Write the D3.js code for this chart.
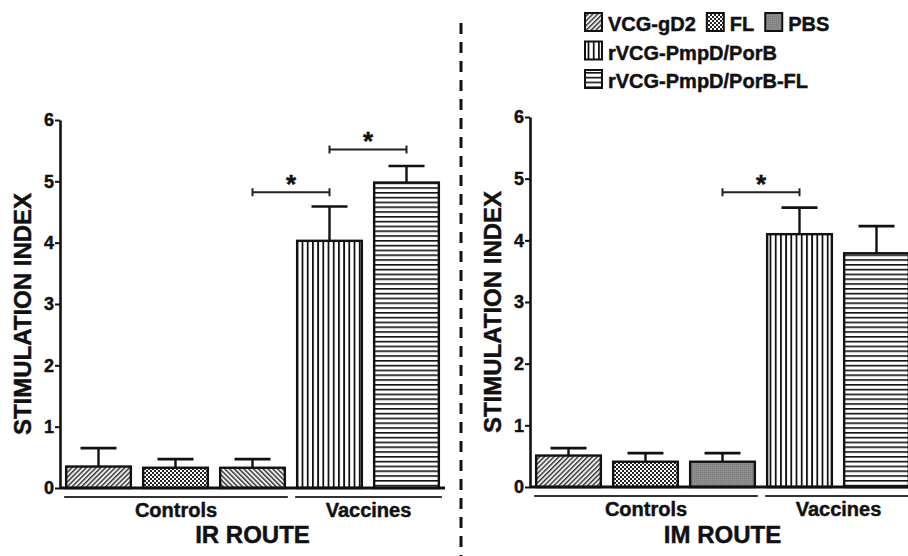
<!DOCTYPE html>
<html>
<head>
<meta charset="utf-8">
<script src="https://d3js.org/d3.v7.min.js"></script>
<style>
  body { margin: 0; background: #fff; }
  svg text { font-family: "Liberation Sans", Arial, sans-serif; font-weight: bold; fill: #111; stroke: #111; stroke-width: 0.45px; }
</style>
</head>
<body>
<div id="chart"></div>
<script>
// bar groups, in drawing order
const groups = ["VCG-gD2", "FL", "PBS", "rVCG-PmpD/PorB", "rVCG-PmpD/PorB-FL"];

// IR route: mean stimulation index and error (SEM)
const irMeans = [0.35, 0.33, 0.33, 4.03, 4.98];
const irErrs  = [0.30, 0.14, 0.14, 0.56, 0.27];
// fill patterns (the IR PBS bar is hatched the other way)
const irFills = ["diag", "check", "backdiag", "vert", "horiz"];

// IM route
const imMeans = [0.51, 0.41, 0.41, 4.10, 3.79];
const imErrs  = [0.12, 0.14, 0.14, 0.43, 0.44];
const imFills = ["diag", "check", "gray", "vert", "horiz"];

// significance brackets: from bar a to bar b, drawn at height y
const irSig = [{ a: 2, b: 3, y: 4.82 }, { a: 3, b: 4, y: 5.52 }];
const imSig = [{ a: 2, b: 3, y: 4.78 }];

// bottom category groups
const categories = [
  { name: "Controls", from: 0, to: 2 },
  { name: "Vaccines", from: 3, to: 4 }
];

const yTicks = [0, 1, 2, 3, 4, 5, 6];

// legend rows
const legendRows = [
  [{ label: "VCG-gD2", fill: "diag" }, { label: "FL", fill: "check" }, { label: "PBS", fill: "gray" }],
  [{ label: "rVCG-PmpD/PorB", fill: "vert" }],
  [{ label: "rVCG-PmpD/PorB-FL", fill: "horiz" }]
];

const W = 908, H = 556;
const svg = d3.select("#chart").append("svg")
  .attr("width", W)
  .attr("height", H);

// ---- patterns ----
const defs = svg.append("defs");

function hatch(id, angle, size, lw, color, bg) {
  const p = defs.append("pattern")
    .attr("id", id)
    .attr("patternUnits", "userSpaceOnUse")
    .attr("width", size)
    .attr("height", size)
    .attr("patternTransform", `rotate(${angle})`);
  p.append("rect").attr("width", size).attr("height", size).attr("fill", bg);
  p.append("rect").attr("x", 0).attr("y", 0).attr("width", lw).attr("height", size).attr("fill", color);
}
hatch("diag", 45, 3.4, 1.4, "#333", "#eee");
hatch("backdiag", -45, 3.4, 1.4, "#333", "#eee");
hatch("vert", 0, 5.2, 1.8, "#111", "#fff");
hatch("horiz", 90, 4.8, 1.6, "#111", "#fff");

const chk = defs.append("pattern")
  .attr("id", "check")
  .attr("patternUnits", "userSpaceOnUse")
  .attr("width", 4).attr("height", 4);
chk.append("rect").attr("width", 4).attr("height", 4).attr("fill", "#fff");
chk.append("rect").attr("x", 0).attr("y", 0).attr("width", 2).attr("height", 2).attr("fill", "#222");
chk.append("rect").attr("x", 2).attr("y", 2).attr("width", 2).attr("height", 2).attr("fill", "#222");

const gry = defs.append("pattern")
  .attr("id", "gray")
  .attr("patternUnits", "userSpaceOnUse")
  .attr("width", 2).attr("height", 2);
gry.append("rect").attr("width", 2).attr("height", 2).attr("fill", "#8c8c8c");
gry.append("rect").attr("width", 1).attr("height", 1).attr("fill", "#7a7a7a");

// ---- one panel ----
function drawPanel(p) {
  const g = svg.append("g");

  const x = d3.scaleBand()
    .domain(d3.range(groups.length))
    .range([p.left, p.right])
    .paddingInner(0.16)
    .paddingOuter(0.08);

  const y = d3.scaleLinear()
    .domain([0, 6])
    .range([p.bottom, p.top]);

  // bars
  g.selectAll(".bar")
    .data(p.means)
    .enter().append("rect")
    .attr("x", (d, i) => x(i))
    .attr("y", d => y(d))
    .attr("width", x.bandwidth())
    .attr("height", d => y(0) - y(d))
    .attr("fill", (d, i) => `url(#${p.fills[i]})`)
    .attr("stroke", "#111")
    .attr("stroke-width", 2.4);

  // error bars (upper only)
  const eb = g.selectAll(".err")
    .data(p.means)
    .enter().append("g");
  eb.append("line")
    .attr("x1", (d, i) => x(i) + x.bandwidth() / 2)
    .attr("x2", (d, i) => x(i) + x.bandwidth() / 2)
    .attr("y1", d => y(d))
    .attr("y2", (d, i) => y(d + p.errs[i]))
    .attr("stroke", "#111")
    .attr("stroke-width", 2.4);
  eb.append("line")
    .attr("x1", (d, i) => x(i) + x.bandwidth() / 2 - 18)
    .attr("x2", (d, i) => x(i) + x.bandwidth() / 2 + 18)
    .attr("y1", (d, i) => y(d + p.errs[i]))
    .attr("y2", (d, i) => y(d + p.errs[i]))
    .attr("stroke", "#111")
    .attr("stroke-width", 2.6);

  // y axis
  const ax = g.append("g")
    .attr("transform", `translate(${p.left},0)`)
    .call(d3.axisLeft(y).tickValues(yTicks).tickFormat(d3.format("d")).tickSize(5).tickSizeOuter(0).tickPadding(1));
  ax.select(".domain").attr("stroke", "#111").attr("stroke-width", 2.6);
  ax.selectAll(".tick line").attr("stroke", "#111").attr("stroke-width", 2);
  ax.selectAll(".tick text")
    .style("font-size", "18px")
    .style("font-family", "'Liberation Sans', Arial, sans-serif")
    .style("font-weight", "bold")
    .attr("fill", "#111");

  // x axis baseline
  g.append("line")
    .attr("x1", p.left)
    .attr("x2", p.right)
    .attr("y1", y(0))
    .attr("y2", y(0))
    .attr("stroke", "#111")
    .attr("stroke-width", 3);

  // category lines and names
  categories.forEach(c => {
    const x1 = x(c.from) - 2;
    const x2 = x(c.to) + x.bandwidth() + 3;
    g.append("line")
      .attr("x1", x1).attr("x2", x2)
      .attr("y1", y(0) + 9).attr("y2", y(0) + 9)
      .attr("stroke", "#333")
      .attr("stroke-width", 2);
    g.append("text")
      .attr("x", (x1 + x2) / 2)
      .attr("y", y(0) + 29)
      .attr("text-anchor", "middle")
      .style("font-size", "20px")
      .text(c.name);
  });

  // route title
  g.append("text")
    .attr("x", (p.left + p.right) / 2)
    .attr("y", 543)
    .attr("text-anchor", "middle")
    .style("font-size", "24px")
    .text(p.title);

  // y label
  g.append("text")
    .attr("transform", `translate(${p.left - 29},${(y(0) + y(6)) / 2 + 10}) rotate(-90)`)
    .attr("text-anchor", "middle")
    .style("font-size", "24px")
    .text("STIMULATION INDEX");

  // significance brackets
  p.sig.forEach(s => {
    const xa = x(s.a) + x.bandwidth() / 2;
    const xb = x(s.b) + x.bandwidth() / 2;
    const yy = y(s.y);
    g.append("path")
      .attr("d", `M${xa},${yy - 4}V${yy + 4}M${xa},${yy}H${xb}M${xb},${yy - 4}V${yy + 4}`)
      .attr("fill", "none")
      .attr("stroke", "#222")
      .attr("stroke-width", 2);
    g.append("text")
      .attr("x", (xa + xb) / 2)
      .attr("y", yy + 1)
      .attr("text-anchor", "middle")
      .style("font-size", "26px")
      .text("*");
  });
}

drawPanel({ left: 60, right: 445, top: 120, bottom: 488, means: irMeans, errs: irErrs, fills: irFills, sig: irSig, title: "IR ROUTE" });
drawPanel({ left: 530, right: 915, top: 117, bottom: 487, means: imMeans, errs: imErrs, fills: imFills, sig: imSig, title: "IM ROUTE" });

// dashed divider
svg.append("line")
  .attr("x1", 461).attr("x2", 461)
  .attr("y1", 23).attr("y2", H)
  .attr("stroke", "#111")
  .attr("stroke-width", 3)
  .attr("stroke-dasharray", "11 8");

// legend
const lg = svg.append("g");
legendRows.forEach((row, r) => {
  let lx = 585;
  const ly = 13 + r * 28.5;
  row.forEach(item => {
    lg.append("rect")
      .attr("x", lx).attr("y", ly)
      .attr("width", 17).attr("height", 18)
      .attr("fill", `url(#${item.fill})`)
      .attr("stroke", "#111")
      .attr("stroke-width", 2);
    const t = lg.append("text")
      .attr("x", lx + 23)
      .attr("y", ly + 18)
      .style("font-size", "20px")
      .text(item.label);
    lx += 23 + t.node().getComputedTextLength() + 11;
  });
});
</script>
</body>
</html>
